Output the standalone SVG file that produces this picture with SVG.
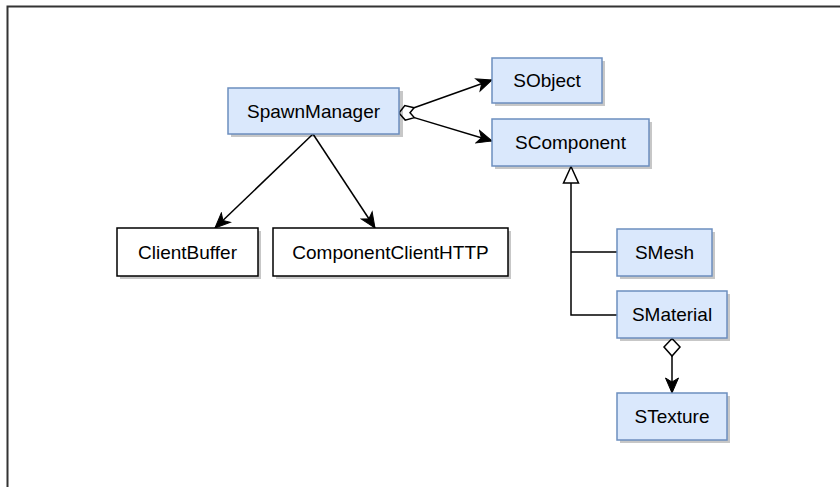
<svg xmlns="http://www.w3.org/2000/svg" width="840" height="487" viewBox="0 0 840 487">
  <style>
    .frame { fill: none; stroke: #333333; stroke-width: 2; }
    .shadow { fill: #000000; fill-opacity: 0.22; }
    .cls { fill: #dae8fc; stroke: #6c8ebf; stroke-width: 1.5; }
    .plain { fill: #ffffff; stroke: #000000; stroke-width: 1.5; }
    .label { font-family: "Liberation Sans", Arial, Helvetica, sans-serif; font-size: 19px; fill: #000000; text-anchor: middle; }
    .edge { fill: none; stroke: #000000; stroke-width: 1.5; }
    .hollow { fill: #ffffff; stroke: #000000; stroke-width: 1.5; stroke-linejoin: miter; }
  </style>
  <defs>
    <marker id="arrow" viewBox="-16 -8 17 16" refX="0" refY="0" markerWidth="17" markerHeight="16" markerUnits="userSpaceOnUse" orient="auto">
      <path d="M0,0 L-15,-6.5 L-11,0 L-15,6.5 Z" fill="#000000" stroke="#000000" stroke-width="1" stroke-linejoin="miter"/>
    </marker>
  </defs>

  <!-- outer frame -->
  <path class="frame" d="M7.5,487 L7.5,6.5 L840,6.5"/>

  <!-- connectors -->
  <g id="connectors">
    <!-- SpawnManager aggregations -->
    <line class="edge" x1="414.1" y1="107.7" x2="492" y2="80" marker-end="url(#arrow)"/>
    <line class="edge" x1="414.3" y1="117.6" x2="492" y2="141" marker-end="url(#arrow)"/>
    <polygon class="hollow" points="399,113 404.8,105.6 414.1,107.7 410,112.7 414.3,117.6 405.2,120.1"/>
    <!-- SpawnManager associations -->
    <line class="edge" x1="313" y1="134" x2="215" y2="228" marker-end="url(#arrow)"/>
    <line class="edge" x1="313" y1="134" x2="375" y2="228" marker-end="url(#arrow)"/>
    <!-- generalization to SComponent -->
    <path class="edge" d="M571,183 L571,315 L617,315 M571,252 L617,252"/>
    <polygon class="hollow" points="571,166.5 578.5,183 563.5,183"/>
    <!-- SMaterial aggregates STexture -->
    <line class="edge" x1="672" y1="356" x2="672" y2="393" marker-end="url(#arrow)"/>
    <polygon class="hollow" points="672,338.5 680,347 672,356 664,347"/>
  </g>

  <g id="SpawnManager">
    <rect class="shadow" x="231" y="91" width="172" height="46"/>
    <rect class="cls" x="228" y="88" width="171" height="46"/>
    <text class="label" x="313.5" y="117.5">SpawnManager</text>
  </g>

  <g id="SObject">
    <rect class="shadow" x="495" y="61" width="110" height="45"/>
    <rect class="cls" x="492" y="58" width="110" height="45"/>
    <text class="label" x="547" y="87">SObject</text>
  </g>

  <g id="SComponent">
    <rect class="shadow" x="495" y="122" width="157" height="47"/>
    <rect class="cls" x="492" y="119" width="157" height="47"/>
    <text class="label" x="570.5" y="149">SComponent</text>
  </g>

  <g id="ClientBuffer">
    <rect class="shadow" x="120" y="231" width="141" height="48"/>
    <rect class="plain" x="117" y="228" width="141" height="48"/>
    <text class="label" x="187.5" y="259">ClientBuffer</text>
  </g>

  <g id="ComponentClientHTTP">
    <rect class="shadow" x="276" y="231" width="235" height="48"/>
    <rect class="plain" x="273" y="228" width="235" height="48"/>
    <text class="label" x="390.5" y="259">ComponentClientHTTP</text>
  </g>

  <g id="SMesh">
    <rect class="shadow" x="620" y="232" width="95" height="47"/>
    <rect class="cls" x="617" y="229" width="95" height="47"/>
    <text class="label" x="664.5" y="259">SMesh</text>
  </g>

  <g id="SMaterial">
    <rect class="shadow" x="620" y="294" width="110" height="47"/>
    <rect class="cls" x="617" y="291" width="110" height="47"/>
    <text class="label" x="672" y="321">SMaterial</text>
  </g>

  <g id="STexture">
    <rect class="shadow" x="620" y="396" width="110" height="47"/>
    <rect class="cls" x="617" y="393" width="110" height="47"/>
    <text class="label" x="672" y="423">STexture</text>
  </g>
</svg>
